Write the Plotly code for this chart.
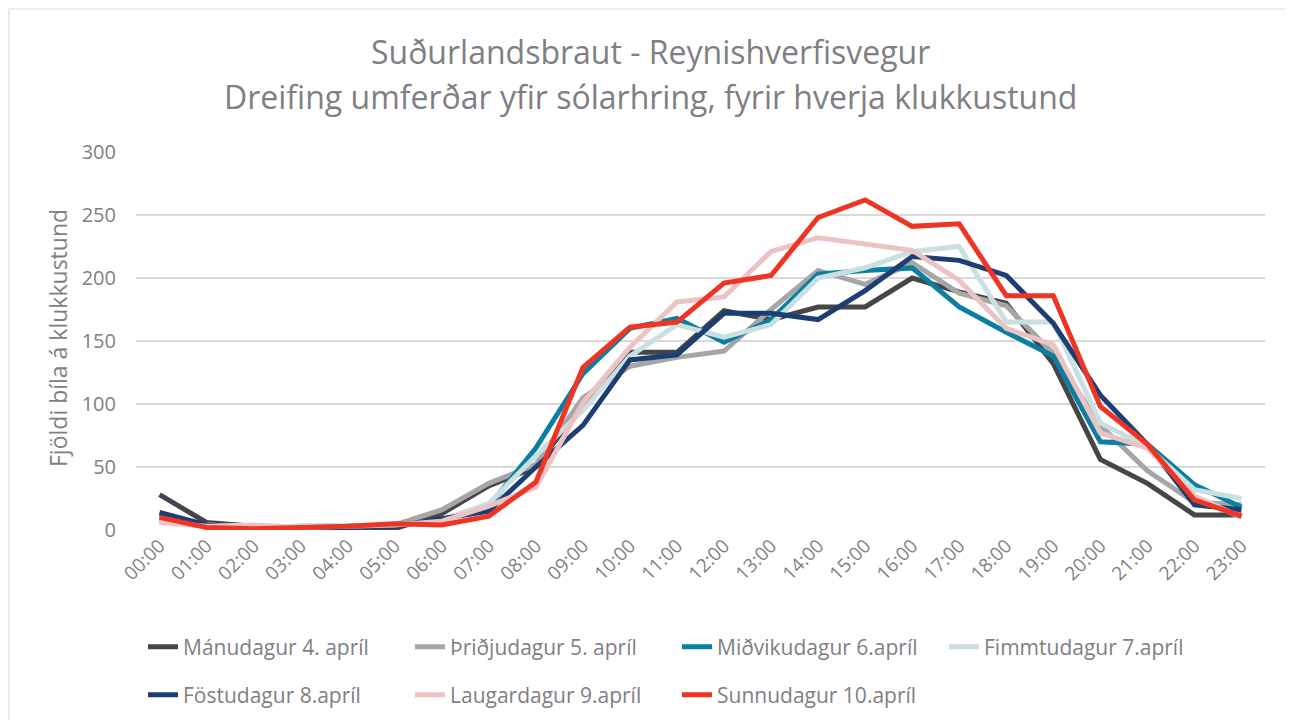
import plotly.graph_objects as go

hours = [f"{h:02d}:00" for h in range(24)]

manudagur = [28, 6, 3, 2, 2, 1, 13, 35, 50, 100, 141, 141, 174, 167, 177, 177, 200, 189, 180, 132, 56, 37, 12, 12]
thridjudagur = [8, 4, 2, 2, 3, 4, 16, 37, 52, 105, 130, 137, 142, 175, 206, 195, 212, 188, 178, 140, 83, 47, 22, 20]
midvikudagur = [12, 4, 2, 3, 3, 4, 8, 19, 65, 124, 160, 168, 149, 167, 203, 206, 208, 177, 157, 138, 70, 68, 36, 18]
fimmtudagur = [9, 4, 2, 3, 3, 4, 8, 21, 59, 95, 138, 163, 153, 163, 200, 208, 221, 225, 165, 165, 85, 66, 32, 25]
fostudagur = [14, 4, 2, 2, 2, 3, 9, 15, 50, 83, 135, 139, 172, 172, 167, 190, 217, 214, 202, 164, 107, 68, 20, 16]
laugardagur = [6, 3, 4, 2, 3, 4, 7, 19, 34, 101, 145, 181, 185, 221, 232, 227, 222, 198, 160, 147, 77, 65, 27, 10]
sunnudagur = [10, 2, 1, 2, 3, 5, 4, 11, 38, 129, 161, 165, 196, 202, 248, 262, 241, 243, 186, 186, 98, 68, 24, 11]

series = [
    ("Mánudagur 4. apríl", manudagur, "#444649", "legend"),
    ("Þriðjudagur 5. apríl", thridjudagur, "#a6a6a8", "legend"),
    ("Miðvikudagur 6.apríl", midvikudagur, "#0c7fa0", "legend"),
    ("Fimmtudagur 7.apríl", fimmtudagur, "#c9dfe0", "legend"),
    ("Föstudagur 8.apríl", fostudagur, "#1d3e72", "legend2"),
    ("Laugardagur 9.apríl", laugardagur, "#ecc3c4", "legend2"),
    ("Sunnudagur 10.apríl", sunnudagur, "#ee3524", "legend2"),
]

FONT = "Open Sans"
GREY = "#7f7f83"

fig = go.Figure()
for name, vals, color, leg in series:
    fig.add_trace(
        go.Scatter(
            x=hours,
            y=vals,
            name=name,
            mode="lines",
            line=dict(color=color, width=5),
            legend=leg,
        )
    )


# page pixel -> paper helpers (plot area 136..1265 x, 152..530 y on the page;
# the html body adds an 8px margin, so the figure margins are 8px smaller)
def px(x):
    return (x - 136) / 1129


def py(y):
    return (530 - y) / 378


legend_common = dict(
    orientation="h",
    xanchor="left",
    yanchor="middle",
    entrywidth=222,
    entrywidthmode="pixels",
    font=dict(family=FONT, size=21, color=GREY),
    bgcolor="rgba(0,0,0,0)",
)

fig.update_layout(
    width=1293,
    height=720,
    margin=dict(l=128, r=36, t=144, b=198, autoexpand=False),
    paper_bgcolor="white",
    plot_bgcolor="white",
    font=dict(family=FONT, color=GREY),
    showlegend=True,
    legend=dict(legend_common, x=px(143), y=py(647)),
    legend2=dict(legend_common, x=px(143), y=py(695)),
    xaxis=dict(
        type="category",
        range=[-0.5, 23.5],
        tickangle=-45,
        tickfont=dict(family=FONT, size=19, color=GREY),
        showgrid=False,
        showline=False,
        ticks="",
        automargin=False,
    ),
    yaxis=dict(
        range=[0, 300],
        tickvals=[0, 50, 100, 150, 200, 250, 300],
        tickfont=dict(family=FONT, size=20, color=GREY),
        gridcolor="#d9d9d9",
        gridwidth=1.5,
        zeroline=False,
        showline=False,
        ticks="",
        ticklabelstandoff=19,
        automargin=False,
    ),
    annotations=[
        dict(
            text="Suðurlandsbraut - Reynishverfisvegur",
            x=px(650), y=py(52), xref="paper", yref="paper",
            xanchor="center", yanchor="middle", showarrow=False,
            font=dict(family=FONT, size=32, color=GREY),
        ),
        dict(
            text="Dreifing umferðar yfir sólarhring, fyrir hverja klukkustund",
            x=px(650), y=py(97), xref="paper", yref="paper",
            xanchor="center", yanchor="middle", showarrow=False,
            font=dict(family=FONT, size=32, color=GREY),
        ),
        dict(
            text="Fjöldi bíla á klukkustund",
            x=px(58), y=py(338), xref="paper", yref="paper",
            xanchor="center", yanchor="middle", showarrow=False,
            textangle=-90,
            font=dict(family=FONT, size=23, color=GREY),
        ),
    ],
    shapes=[
        dict(
            type="rect", xref="paper", yref="paper",
            x0=px(9), x1=px(1287), y0=py(730), y1=py(9),
            line=dict(color="#d9d9d9", width=1),
            fillcolor="rgba(0,0,0,0)",
            layer="below",
        )
    ],
)

fig.write_html("out.html")
